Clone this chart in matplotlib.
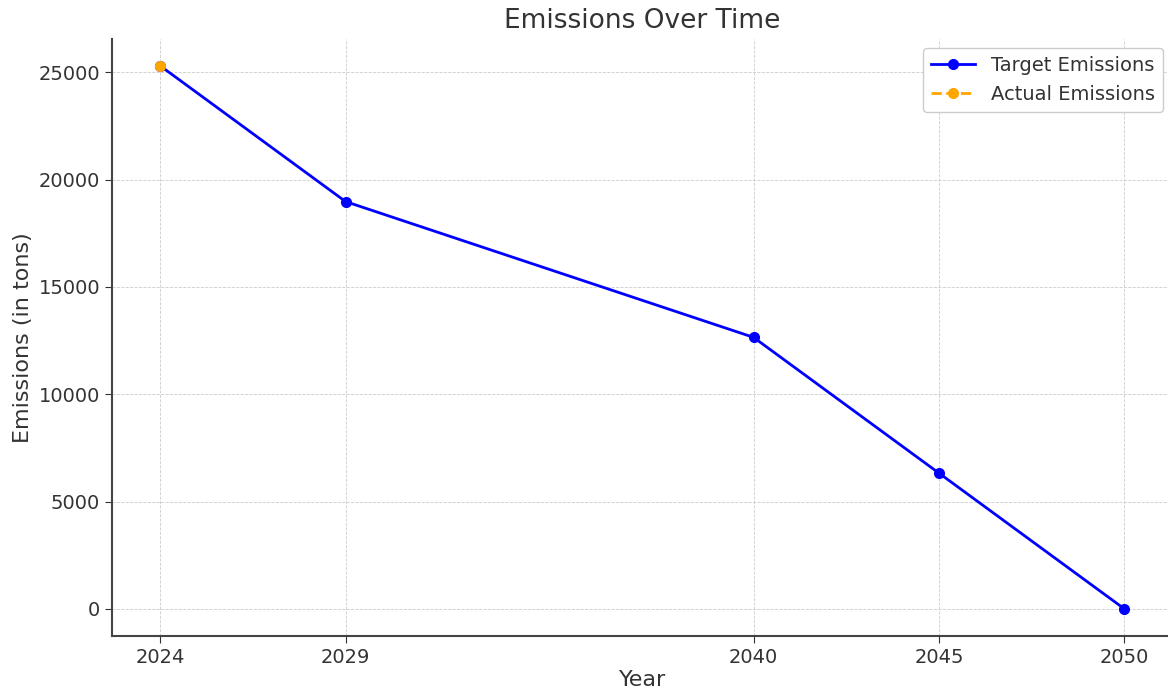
import matplotlib
matplotlib.use("Agg")
import matplotlib.pyplot as plt

# target path and the single measured value
years = [2024, 2029, 2040, 2045, 2050]
target_emissions = [25300, 18975, 12650, 6325, 0]
actual_years = [2024]
actual_emissions = [25300]

text_color = '#333333'

fig = plt.figure(figsize=(11.68, 6.91), dpi=100)
ax = fig.add_axes([0.0959, 0.0796, 0.908, 0.8644])

ax.plot(years, target_emissions, color='blue', marker='o', markersize=7,
        linewidth=2, label='Target Emissions')
ax.plot(actual_years, actual_emissions, color='orange', marker='o', markersize=7,
        linestyle='--', linewidth=2, label='Actual Emissions')

ax.set_xticks(years)
ax.set_title('Emissions Over Time', fontsize=19, color=text_color, pad=8)
ax.set_xlabel('Year', fontsize=16, color=text_color, labelpad=2)
ax.set_ylabel('Emissions (in tons)', fontsize=16, color=text_color)
ax.tick_params(labelsize=14, colors=text_color, length=5)

ax.grid(True, linestyle='--', linewidth=0.6, color='#cccccc')
for side in ['top', 'right']:
    ax.spines[side].set_visible(False)
for side in ['left', 'bottom']:
    ax.spines[side].set_color('#444444')
    ax.spines[side].set_linewidth(1.5)

leg = ax.legend(loc='upper right', fontsize=14, framealpha=1, handlelength=2.3)
for t in leg.get_texts():
    t.set_color(text_color)

fig.savefig('out.png', dpi=100)
